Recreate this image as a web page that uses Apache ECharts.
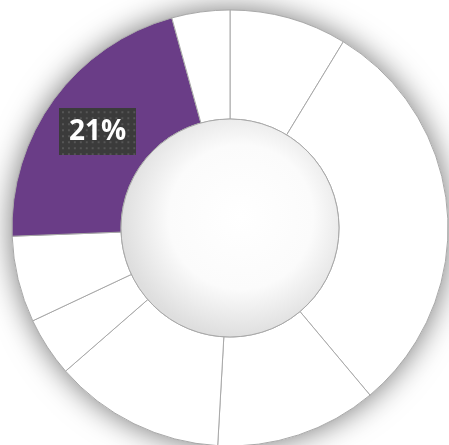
<!DOCTYPE html>
<html>
<head>
<meta charset="utf-8">
<script src="https://cdn.jsdelivr.net/npm/echarts@6/dist/echarts.min.js"></script>
<style>
  html, body { margin: 0; padding: 0; background: #fff; }
  #chart { width: 449px; height: 445px; }
</style>
</head>
<body>
<div id="chart"></div>
<script>
// slice shares, clockwise from 12 o'clock
const sliceNames = ['A', 'B', 'C', 'D', 'E', 'F', 'G', 'H'];
const sliceValues = [8.7, 30.2, 12.0, 12.7, 4.4, 6.4, 21.3, 4.3];
const highlightIndex = 6;

// dotted dark texture for the label box
function makeTexture(w, h) {
    const c = document.createElement('canvas');
    c.width = w; c.height = h;
    const ctx = c.getContext('2d');
    ctx.fillStyle = '#3b3b3b';
    ctx.fillRect(0, 0, w, h);
    ctx.fillStyle = '#555555';
    for (let y = 3; y < h; y += 6) {
        for (let x = 3; x < w; x += 6) {
            ctx.fillRect(x, y, 2, 2);
        }
    }
    return c;
}

const center = [230, 228];
const inner = 109;
const outer = 218;

const sliceData = sliceValues.map((v, i) => {
    const item = { name: sliceNames[i], value: v, itemStyle: { color: '#ffffff' } };
    if (i === highlightIndex) {
        item.itemStyle = { color: '#6a3d87' };
        item.label = {
            show: true,
            position: 'inside',
            formatter: Math.round(v) + '%',
            color: '#ffffff',
            fontFamily: 'Open Sans',
            fontWeight: 'bold',
            fontSize: 28,
            lineHeight: 35,
            padding: [6, 10],
            offset: [2, 2],
            backgroundColor: { image: makeTexture(78, 47) },
            shadowColor: 'rgba(0,0,0,0.6)',
            shadowBlur: 7,
            shadowOffsetX: 2,
            shadowOffsetY: 3
        };
    }
    return item;
});

const chart = echarts.init(document.getElementById('chart'));
chart.setOption({
    animation: false,
    backgroundColor: '#ffffff',
    series: [
        {
            // soft drop shadow under the ring
            type: 'pie',
            silent: true,
            center: center,
            radius: [inner, outer],
            label: { show: false },
            labelLine: { show: false },
            itemStyle: {
                color: '#ffffff',
                shadowBlur: 30,
                shadowColor: 'rgba(0,0,0,0.55)'
            },
            data: [{ value: 1 }]
        },
        {
            type: 'pie',
            silent: true,
            center: center,
            radius: [inner, outer],
            startAngle: 90,
            clockwise: true,
            label: { show: false },
            labelLine: { show: false },
            itemStyle: { borderColor: '#a8a8a8', borderWidth: 1 },
            data: sliceData
        },
        {
            // shaded hole
            type: 'pie',
            silent: true,
            center: center,
            radius: [0, inner],
            label: { show: false },
            labelLine: { show: false },
            itemStyle: {
                borderColor: '#a8a8a8',
                borderWidth: 1,
                color: {
                    type: 'radial', x: 0.55, y: 0.45, r: 0.55,
                    colorStops: [
                        { offset: 0, color: '#ffffff' },
                        { offset: 0.6, color: '#fbfbfb' },
                        { offset: 1, color: '#dedede' }
                    ]
                }
            },
            data: [{ value: 1 }]
        }
    ]
});
</script>
</body>
</html>
